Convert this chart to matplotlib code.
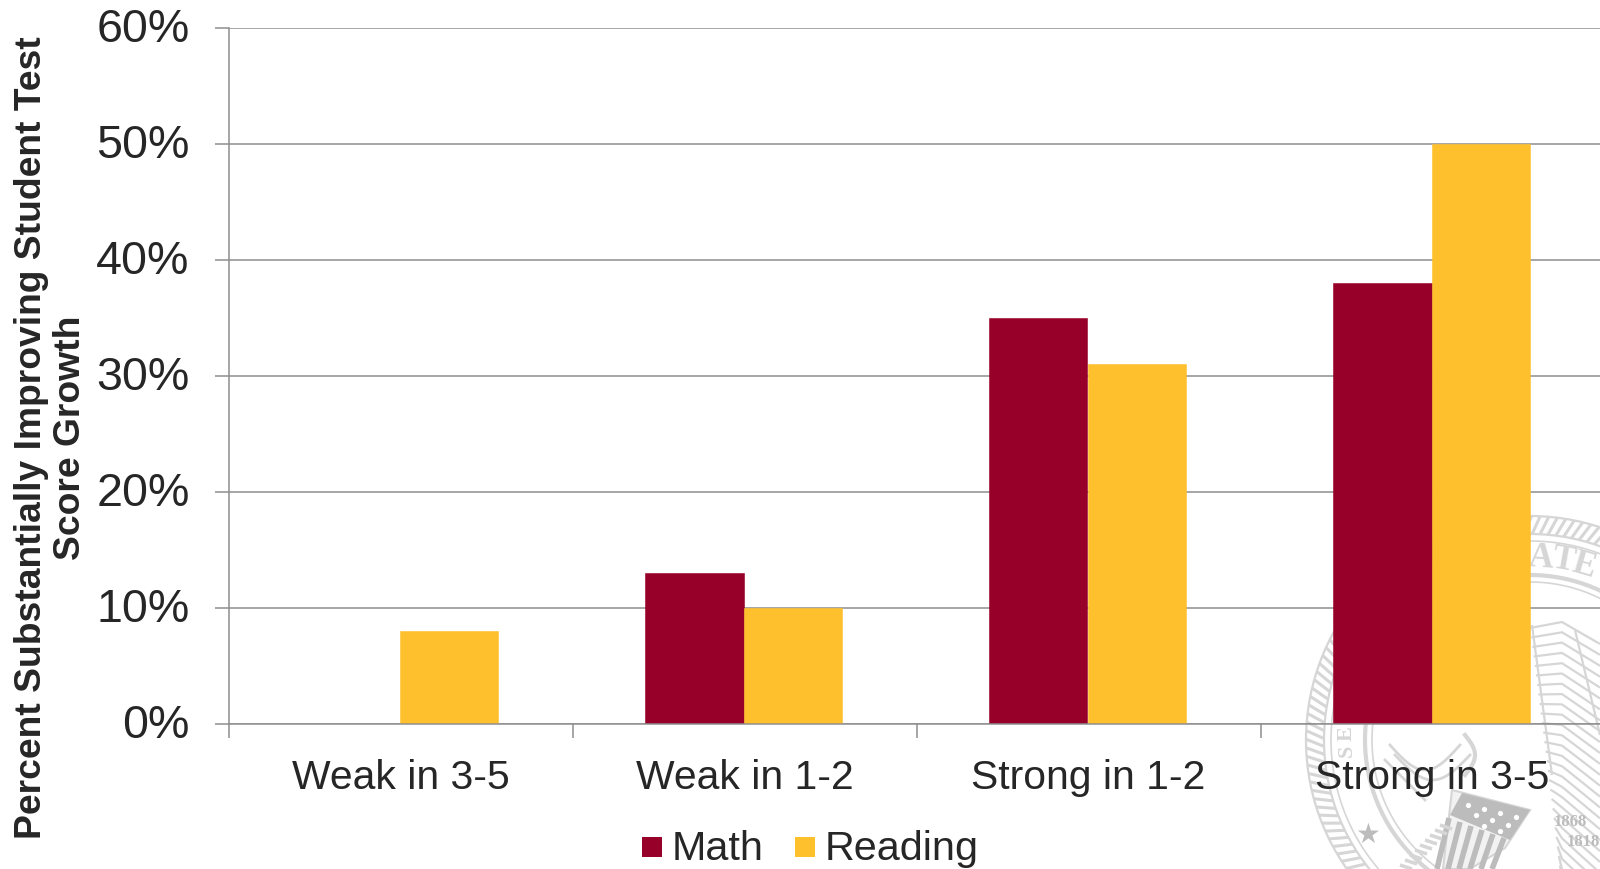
import matplotlib
matplotlib.use('Agg')
import matplotlib.pyplot as plt
from matplotlib.collections import LineCollection
from matplotlib.patches import Circle, Polygon, Rectangle
from matplotlib.ticker import FuncFormatter, MultipleLocator
from matplotlib.transforms import ScaledTranslation
import numpy as np

categories = ['Weak in 3-5', 'Weak in 1-2', 'Strong in 1-2', 'Strong in 3-5']
math_values = [0, 13, 35, 38]
reading_values = [8, 10, 31, 50]
y_ticks = [0, 10, 20, 30, 40, 50, 60]

plt.rcParams['font.family'] = ['Liberation Sans', 'DejaVu Sans']

W, H = 1600, 869
TEXT = '#262626'
GRID = '#8e8e8e'
MAROON = '#970029'
GOLD = '#FFC02D'
SEAL = '#d6d6d6'
SEAL_DARK = '#bcbcbc'

fig = plt.figure(figsize=(W / 100, H / 100), dpi=100, facecolor='white')

# watermark seal sits behind everything, drawn in pixel coords
bg = fig.add_axes([0, 0, 1, 1], zorder=0)
bg.set_xlim(0, W)
bg.set_ylim(H, 0)
bg.axis('off')

cx, cy = 1530, 740
for r, lw in [(224, 1.6), (206, 1.6), (199, 1.2), (165, 3.0), (158, 1.2)]:
    bg.add_patch(Circle((cx, cy), r, fill=False, ec=SEAL, lw=lw))
# rope edge
ang = np.radians(np.arange(0, 360, 2.2))
rope = [[(cx + 206 * np.cos(a), cy + 206 * np.sin(a)),
         (cx + 224 * np.cos(a + 0.035), cy + 224 * np.sin(a + 0.035))] for a in ang]
bg.add_collection(LineCollection(rope, colors=SEAL, linewidths=2.2))

# lettering on the ring
serif = dict(family='Liberation Serif', weight='bold', color=SEAL, ha='center', va='center')
bg.text(1541, 558, 'A', fontsize=25, rotation=-4, **serif)
bg.text(1563, 561, 'T', fontsize=25, rotation=-10, **serif)
bg.text(1584, 566, 'E', fontsize=25, rotation=-16, **serif)
bg.text(1347, 751, 'S', fontsize=16, rotation=90, **serif)
bg.text(1347, 734, 'E', fontsize=16, rotation=90, **serif)
bg.text(1570, 822, '1868', fontsize=12, family='Liberation Serif', weight='bold', color=SEAL_DARK,
        ha='center', va='center')
bg.text(1583, 842, '1818', fontsize=12, family='Liberation Serif', weight='bold', color=SEAL_DARK,
        ha='center', va='center')
bg.text(1368, 835, '\u2605', fontsize=20, family='DejaVu Sans', color=SEAL_DARK, ha='center', va='center')

# wing feathers to the right of the last bar
wing = []
for i in range(26):
    y0 = 628 + i * 9.5
    wing.append([(1530 + i * 1.2, y0), (1562, y0 - 6 + i * 0.8), (1600, y0 + 16 + i * 1.4)])
bg.add_collection(LineCollection(wing, colors=SEAL, linewidths=1.6))
bg.add_collection(LineCollection([[(1532, 625), (1552, 775)], [(1575, 630), (1600, 735)]],
                                 colors=SEAL, linewidths=1.6))

# ribbon under the axis
t = np.linspace(0, 1, 30)
bg.plot(1390 + 70 * t, 745 + 25 * np.sin(np.pi * t), color=SEAL, lw=2)
bg.plot(1395 + 75 * t, 755 + 25 * np.sin(np.pi * t), color=SEAL, lw=2)
bg.plot(1385 + 40 * t, 760 + 40 * t, color=SEAL, lw=2)
bg.plot(1465 + 10 * np.sin(np.pi * t), 735 + 40 * t, color=SEAL, lw=3)

# shield
shield = [(1452, 790), (1530, 810), (1505, 848), (1470, 869), (1443, 869)]
bg.add_patch(Polygon(shield, closed=True, fc='#f2f2f2', ec=SEAL, lw=1.5))
bg.add_patch(Polygon([(1462, 793), (1530, 810), (1510, 840), (1450, 815)], closed=True,
                     fc=SEAL_DARK, ec='none'))
stripes = [[(1449 + i * 11, 818 + i * 4), (1437 + i * 11, 869)] for i in range(6)]
bg.add_collection(LineCollection(stripes, colors=SEAL_DARK, linewidths=4))
sx = [1468, 1484, 1500, 1516, 1476, 1492, 1508, 1484, 1500]
sy = [805, 809, 813, 817, 815, 820, 825, 826, 831]
bg.scatter(sx, sy, s=14, color='white', linewidths=0)

# leaves to the left of the shield
leaves = [[(1400 + i * 5, 865 - i * 5), (1412 + i * 5, 869 - i * 5)] for i in range(9)]
bg.add_collection(LineCollection(leaves, colors=SEAL, linewidths=2.5))

# main axes run off the right side of the picture
left, right = 228.5, W
top, bottom = 28, 724
ax = fig.add_axes([left / W, 1 - bottom / H, (right - left) / W, (bottom - top) / H], zorder=1)
ax.patch.set_visible(False)

cat_px = 344
bar_w = 98.5 / cat_px
x = np.arange(len(categories))
shift = -1 / cat_px
ax.bar(x - bar_w / 2 + shift, math_values, bar_w, color=MAROON, ec=MAROON, lw=0.4, label='Math', zorder=3)
ax.bar(x + bar_w / 2 + shift, reading_values, bar_w, color=GOLD, ec=GOLD, lw=0.4, label='Reading', zorder=3)

ax.set_xlim(-0.5, (right - left) / cat_px - 0.5)
ax.set_ylim(0, 60)
ax.set_yticks(y_ticks)
ax.yaxis.set_major_formatter(FuncFormatter(lambda v, p: f'{v:.0f}%'))
ax.set_xticks(x)
ax.set_xticklabels(categories)
ax.xaxis.set_minor_locator(MultipleLocator(1, offset=0.5))

ax.grid(axis='y', color=GRID, lw=1.1, zorder=1)
ax.set_axisbelow(True)
for s in ['top', 'right']:
    ax.spines[s].set_visible(False)
for s in ['left', 'bottom']:
    ax.spines[s].set_color(GRID)
    ax.spines[s].set_linewidth(1.1)
    ax.spines[s].set_zorder(4)

ax.tick_params(axis='y', labelsize=33.6, labelcolor=TEXT, color=GRID, length=10, width=1.1, pad=18)
ax.tick_params(axis='x', which='major', labelsize=29.4, labelcolor=TEXT, length=0, pad=25)
ax.tick_params(axis='x', which='minor', color=GRID, length=10, width=1.1)

# y labels sit a little high in the reference
nudge = ScaledTranslation(0, 2.5 / 100, fig.dpi_scale_trans)
for lab in ax.get_yticklabels():
    lab.set_transform(lab.get_transform() + nudge)

fig.text(51 / W, 1 - 438 / H, 'Percent Substantially Improving Student Test\nScore Growth',
         rotation=90, ha='center', va='center', multialignment='center',
         fontsize=26.8, fontweight='bold', color=TEXT, linespacing=1.12)

# legend by hand so the swatches land in the right place
fig.add_artist(Rectangle((642 / W, 1 - 857 / H), 20 / W, 20 / H, transform=fig.transFigure, fc=MAROON, ec='none'))
fig.add_artist(Rectangle((795 / W, 1 - 857 / H), 20 / W, 20 / H, transform=fig.transFigure, fc=GOLD, ec='none'))
fig.text(672 / W, 1 - 849 / H, 'Math', fontsize=29.8, color=TEXT, va='center', ha='left')
fig.text(825 / W, 1 - 849 / H, 'Reading', fontsize=29.8, color=TEXT, va='center', ha='left')

fig.savefig('out.png', dpi=100)
